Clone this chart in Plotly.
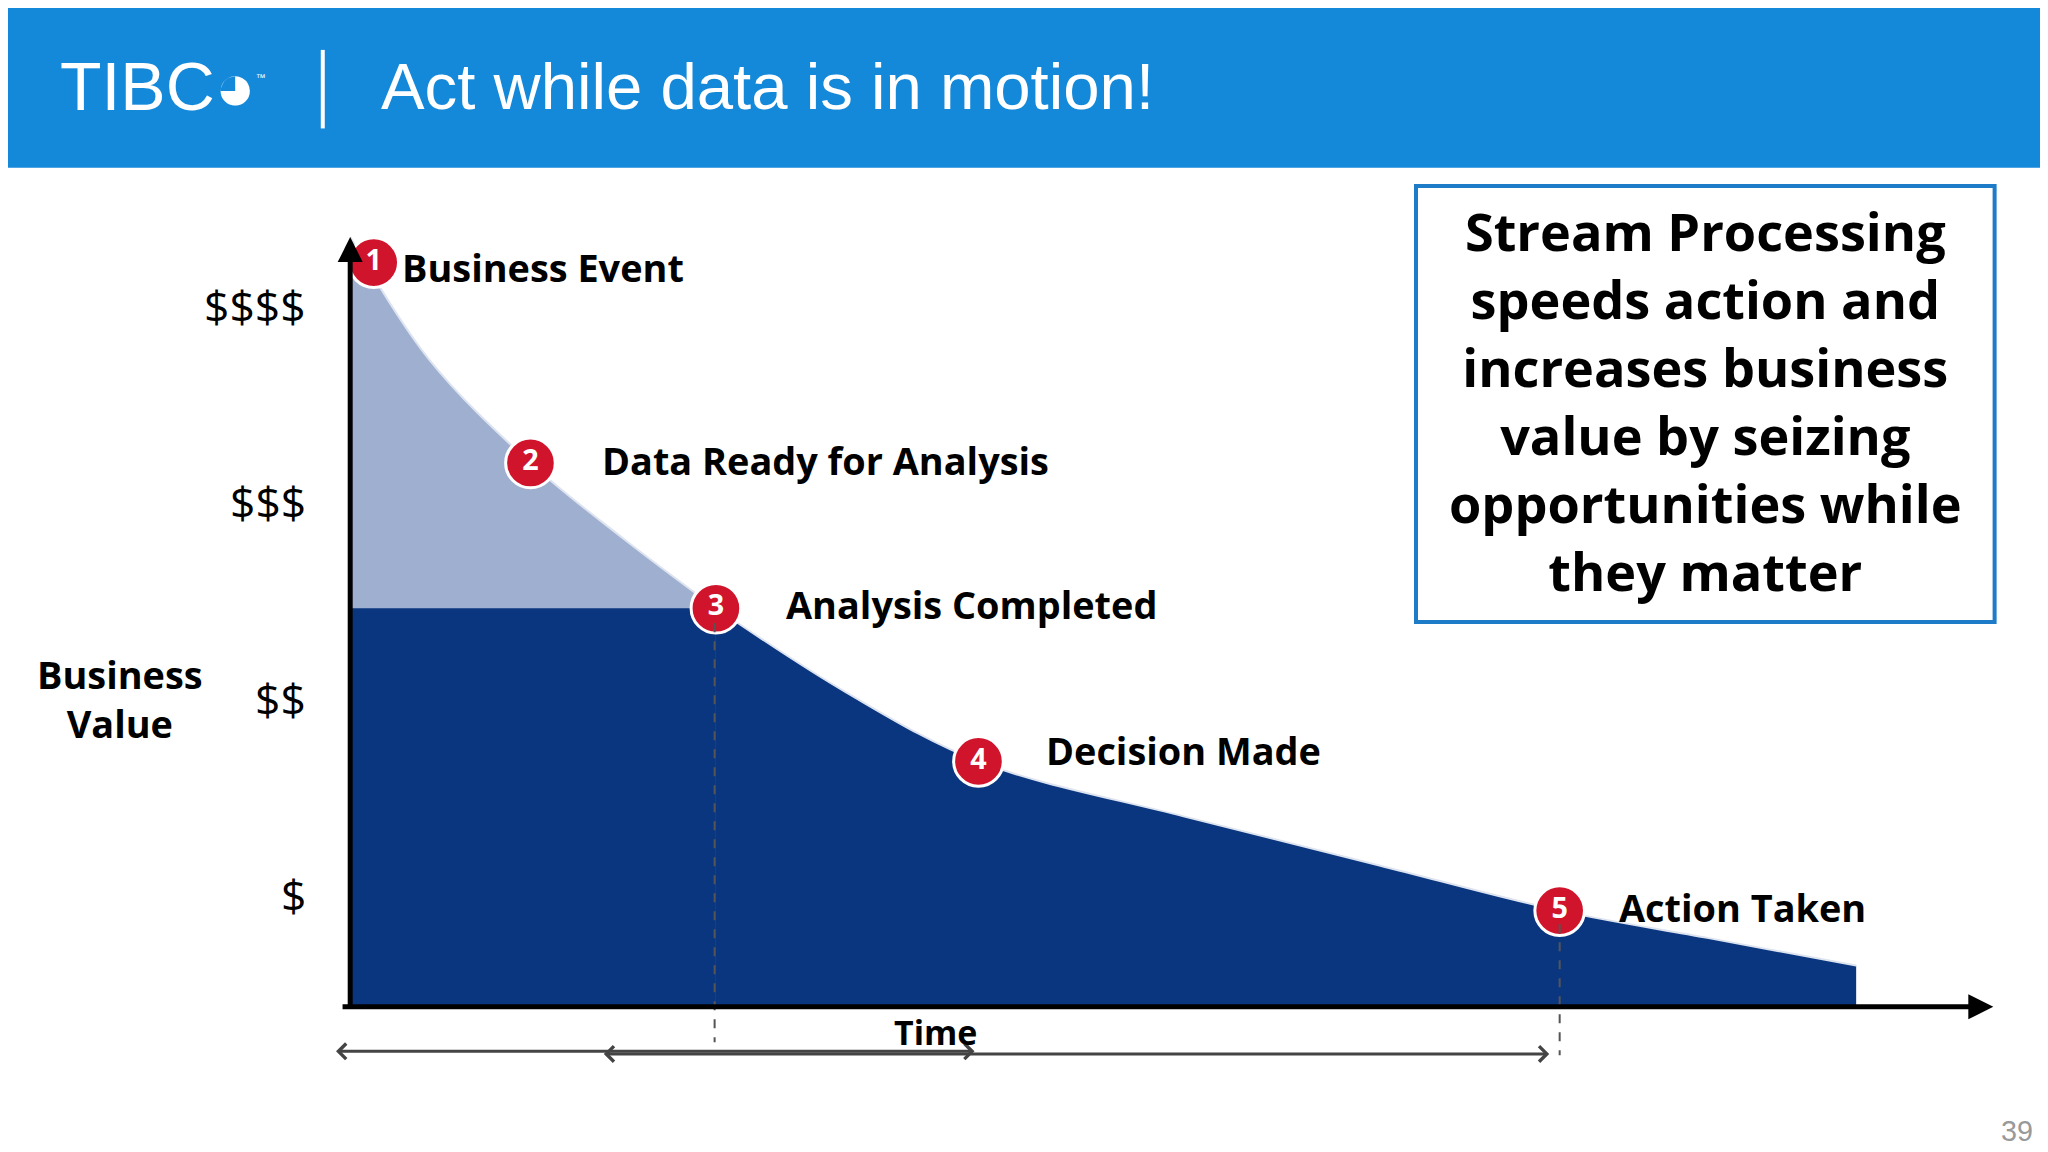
import plotly.graph_objects as go

# ---- data (time units, value units) ----
event_labels = ["Business Event", "Data Ready for Analysis", "Analysis Completed", "Decision Made", "Action Taken"]
event_numbers = ["1", "2", "3", "4", "5"]
event_time = [0.18, 1.38, 2.80, 4.81, 9.26]
event_value = [3.79, 2.77, 2.03, 1.25, 0.49]
curve_time_early = [0.0, 0.6, 1.38, 2.1, 2.80]
curve_value_early = [3.92, 3.30, 2.77, 2.38, 2.03]
curve_time_late = [2.80, 3.8, 4.81, 6.38, 7.88, 9.26, 10.4, 11.53]
curve_value_late = [2.03, 1.60, 1.25, 0.97, 0.72, 0.49, 0.35, 0.21]
dollar_labels = ["$", "$$", "$$$", "$$$$"]
dollar_values = [0.57, 1.57, 2.57, 3.57]
box_text = "Stream Processing<br>speeds action and<br>increases business<br>value by seizing<br>opportunities while<br>they matter"

W, H = 2048, 1152
S = W / 1568
def X(px): return (px - 262) / 100.0
def Y(py): return (763 - py) / 150.0
XR = [X(0), X(1568)]
YR = [Y(880), Y(0)]

LIGHT = "#9FAFD0"; DARK = "#0A3680"; RED = "#D0142C"
fig = go.Figure()
fig.add_trace(go.Scatter(x=curve_time_early, y=curve_value_early, mode="lines", line=dict(color="#DDE4F0", width=2, shape="spline"),
                         fill="tozeroy", fillcolor=LIGHT, hoverinfo="skip"))
fig.add_trace(go.Scatter(x=[0, curve_time_early[-1]], y=[curve_value_early[-1]] * 2, mode="lines", line=dict(color=DARK, width=0),
                         fill="tozeroy", fillcolor=DARK, hoverinfo="skip"))
fig.add_trace(go.Scatter(x=curve_time_late, y=curve_value_late, mode="lines", line=dict(color="#DDE4F0", width=2, shape="spline"),
                         fill="tozeroy", fillcolor=DARK, hoverinfo="skip"))

shapes = [
    dict(type="rect", xref="paper", yref="paper", x0=-0.02, x1=1.02, y0=1 - 122 / 880, y1=1.02, fillcolor="#1589D9", line_width=0, layer="below"),
    dict(type="line", xref="paper", yref="paper", x0=241 / 1568, x1=241 / 1568, y0=1 - 32 / 880, y1=1 - 92 / 880, line=dict(color="white", width=4)),
    dict(type="rect", x0=X(1078), x1=X(1521), y0=Y(136), y1=Y(469), line=dict(color="#1E7BC8", width=4)),
    dict(type="line", x0=X(541), x1=X(541), y0=Y(470), y1=Y(790), line=dict(color="#555", width=2, dash="dash")),
    dict(type="line", x0=X(1188), x1=X(1188), y0=Y(700), y1=Y(800), line=dict(color="#555", width=2, dash="dash")),
]
ann = []
def arrow(x0, y0, x1, y1, color="black", w=5, side="end", head=2):
    ann.append(dict(x=X(x1), y=Y(y1), ax=X(x0), ay=Y(y0), xref="x", yref="y", axref="x", ayref="y", text="",
                    showarrow=True, arrowhead=head, arrowside=side, arrowwidth=w, arrowcolor=color, arrowsize=1))
arrow(262, 763, 262, 175, w=5)
arrow(255, 763, 1520, 763, w=5)
arrow(250, 797, 740, 797, color="#444", w=3, side="end+start", head=4)
arrow(455, 799, 1180, 799, color="#444", w=3, side="end+start", head=4)

fig.add_trace(go.Scatter(x=event_time, y=event_value, mode="markers+text", text=event_numbers, textposition="middle center",
                         textfont=dict(color="white", size=22 * S, family="Open Sans", weight="bold"),
                         marker=dict(size=38 * S, color=RED, line=dict(color="white", width=3)), hoverinfo="skip"))

def txt(s, x, y, size, color="black", bold=False, xanchor="left", family="Open Sans", align="left"):
    ann.append(dict(text=s, x=X(x), y=Y(y), xref="x", yref="y", showarrow=False, xanchor=xanchor, yanchor="middle", align=align,
                    font=dict(size=size * S, color=color, family=family, weight="bold" if bold else "normal")))

label_px = [(300, 198), (453, 346), (594, 456), (793, 567), (1232, 687)]
for lab, (px, py) in zip(event_labels, label_px):
    txt(lab, px, py, 29, bold=True)
for lab, v in zip(dollar_labels, dollar_values):
    ann.append(dict(text=lab, x=X(230), y=v, xref="x", yref="y", showarrow=False, xanchor="right",
                    font=dict(size=34 * S, color="black", family="Open Sans")))
txt("Business<br>Value", 86, 528, 29, bold=True, xanchor="center", align="center")
txt("Time", 710, 782, 26, bold=True, xanchor="center")
txt(box_text, 1300, 300, 40, bold=True, xanchor="center", align="center")
txt("Act while data is in motion!", 284, 60, 50, color="white", family="Liberation Sans")
txt("TIBC\u25d5<sup><span style='font-size:10px'>™</span></sup>", 38, 60, 52, color="white", family="Liberation Sans")
txt("39", 1552, 858, 22, color="#999", xanchor="right", family="Liberation Sans")

fig.update_layout(width=W, height=H, margin=dict(l=0, r=0, t=0, b=0), paper_bgcolor="white", plot_bgcolor="white",
                  showlegend=False, shapes=shapes, annotations=ann,
                  xaxis=dict(range=XR, visible=False, fixedrange=True), yaxis=dict(range=YR, visible=False, fixedrange=True))
fig.write_html("out.html")
